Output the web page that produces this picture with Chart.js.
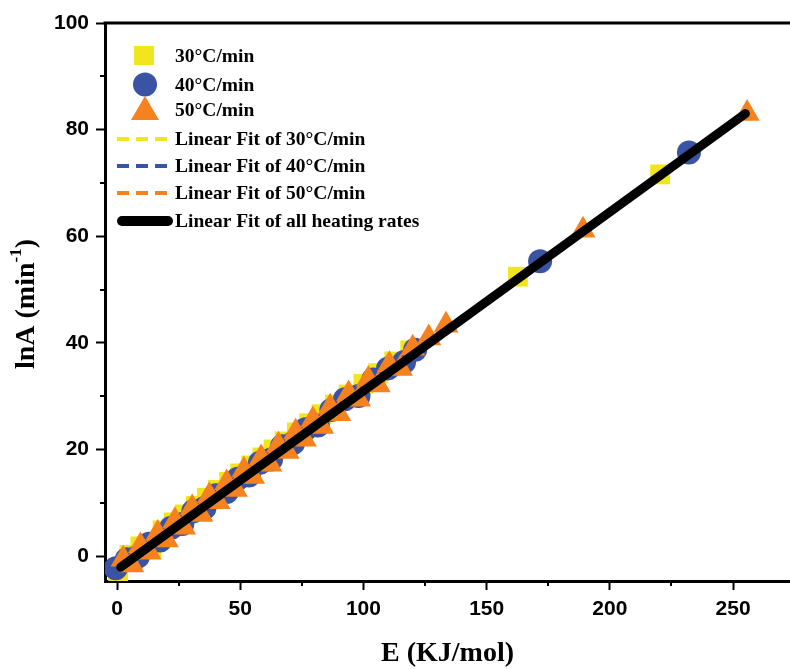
<!DOCTYPE html>
<html>
<head>
<meta charset="utf-8">
<script src="https://cdn.jsdelivr.net/npm/chart.js@4.4.1/dist/chart.umd.min.js"></script>
<style>
  html, body { margin: 0; padding: 0; background: #fff; overflow: hidden; }
  canvas { display: block; }
</style>
</head>
<body>
<canvas id="chart" width="790" height="669"></canvas>
<script>
// Activation energy E (kJ/mol) vs. pre-exponential factor lnA (min^-1)
const rate30E   = [0.5, 5, 9.5, 14, 18.5, 23, 27.5, 32, 36.5, 41, 45.5, 50, 54.5, 59, 63.5, 68, 73, 78, 83, 88.5, 94, 100, 106, 112.5, 119, 162.7, 220.4];
const rate30LnA = [-3.0, 0.2, 1.8, 1.3, 4.8, 6.3, 7.8, 9.4, 10.9, 12.4, 13.9, 15.5, 17.0, 18.5, 20.0, 21.5, 23.2, 24.9, 26.6, 28.4, 30.3, 32.3, 34.3, 36.5, 38.6, 52.4, 71.6];

const rate40E   = [-0.5, 4, 8.5, 13, 17.5, 22, 26.5, 31, 35.5, 40, 44.5, 49, 53.5, 58, 62.5, 67, 71.5, 76.5, 81.5, 87, 92.5, 98, 104, 110, 116.5, 121, 171.7, 232.1];
const rate40LnA = [-2.3, -0.6, -0.1, 2.3, 2.9, 5.3, 6.0, 8.4, 9.0, 11.4, 12.0, 14.5, 15.1, 17.5, 18.1, 20.6, 21.2, 23.8, 24.5, 27.4, 29.4, 30.0, 33.1, 35.2, 36.4, 38.7, 55.3, 75.7];

const rate50E   = [2.5, 6, 9.5, 13, 16.5, 20, 23.5, 27, 30.5, 34, 37.5, 41, 44.5, 48, 51.5, 55, 58.5, 62, 65.5, 69, 72.5, 76, 79.5, 83, 86.5, 90, 94, 98, 102, 106, 110.5, 115, 120, 126.5, 133.5, 189.1, 255.7];
const rate50LnA = [-0.6, -1.7, 1.9, 0.7, 4.2, 3.0, 6.6, 5.4, 9.0, 7.8, 11.3, 10.2, 13.7, 12.5, 16.1, 14.9, 18.4, 17.2, 20.8, 19.6, 23.2, 21.9, 25.5, 24.3, 27.9, 26.7, 30.4, 29.4, 33.1, 32.1, 35.9, 35.2, 39.0, 40.9, 43.3, 61.1, 83.0];

// Linear fit end points
const fit30E = [0.5, 220.4];   const fit30LnA = [-2.4, 71.4];
const fit40E = [-0.5, 232.1];  const fit40LnA = [-2.8, 75.5];
const fit50E = [2.5, 255.7];   const fit50LnA = [-1.8, 83.0];
const fitAllE = [1.5, 255];    const fitAllLnA = [-2.1, 83.0];

// Axis ticks
const xTickValues = [0, 50, 100, 150, 200, 250];
const xMinorTicks = [25, 75, 125, 175, 225];
const yTickValues = [0, 20, 40, 60, 80, 100];
const yMinorTicks = [10, 30, 50, 70, 90];

const seriesLabels = ['30°C/min', '40°C/min', '50°C/min',
  'Linear Fit of 30°C/min', 'Linear Fit of 40°C/min', 'Linear Fit of 50°C/min',
  'Linear Fit of all heating rates'];

const YELLOW = '#F1E61B';
const BLUE = '#3A53A4';
const ORANGE = '#F5821F';

const pts = (xs, ys) => xs.map((x, i) => ({ x, y: ys[i] }));

const SERIF = '"Liberation Serif", "Times New Roman", serif';
const SANS = '"Liberation Sans", Arial, sans-serif';

// Frame top edge, minor ticks, axis titles and legend
const decor = {
  id: 'decor',
  afterDraw(chart) {
    const { ctx, chartArea: a, scales: { x, y } } = chart;
    ctx.save();
    ctx.strokeStyle = '#000';
    ctx.lineWidth = 3;
    ctx.beginPath();
    ctx.moveTo(a.left - 1.5, a.top);
    ctx.lineTo(a.right, a.top);
    ctx.stroke();

    ctx.lineWidth = 2;
    xMinorTicks.forEach(v => {
      const px = Math.round(x.getPixelForValue(v));
      ctx.beginPath(); ctx.moveTo(px, a.bottom); ctx.lineTo(px, a.bottom + 5); ctx.stroke();
    });
    yMinorTicks.forEach(v => {
      const py = Math.round(y.getPixelForValue(v));
      ctx.beginPath(); ctx.moveTo(a.left, py); ctx.lineTo(a.left - 5, py); ctx.stroke();
    });

    // Axis titles
    ctx.fillStyle = '#000';
    ctx.font = 'bold 28px ' + SERIF;
    ctx.textAlign = 'center';
    ctx.textBaseline = 'middle';
    ctx.fillText('E (KJ/mol)', (a.left + a.right) / 2, 654);

    ctx.save();
    ctx.translate(27, (a.top + a.bottom) / 2 + 2);
    ctx.rotate(-Math.PI / 2);
    const main1 = 'lnA (min', sup = '-1', main2 = ')';
    ctx.font = 'bold 28px ' + SERIF;
    const w1 = ctx.measureText(main1).width;
    const w3 = ctx.measureText(main2).width;
    ctx.font = 'bold 17px ' + SERIF;
    const w2 = ctx.measureText(sup).width;
    const sx = -(w1 + w2 + w3) / 2;
    ctx.textAlign = 'left';
    ctx.font = 'bold 28px ' + SERIF;
    ctx.fillText(main1, sx, 0);
    ctx.font = 'bold 17px ' + SERIF;
    ctx.fillText(sup, sx + w1, -10);
    ctx.font = 'bold 28px ' + SERIF;
    ctx.fillText(main2, sx + w1 + w2, 0);
    ctx.restore();

    // Legend
    const cx = 144, tx = 175;
    const rows = [56, 84.5, 110, 139, 166, 193, 221];
    ctx.fillStyle = YELLOW;
    ctx.fillRect(cx - 10, rows[0] - 10, 20, 19);
    ctx.fillStyle = BLUE;
    ctx.beginPath(); ctx.arc(cx + 1, rows[1], 12, 0, Math.PI * 2); ctx.fill();
    ctx.fillStyle = ORANGE;
    ctx.beginPath();
    ctx.moveTo(cx + 1, rows[2] - 14); ctx.lineTo(cx + 15, rows[2] + 10); ctx.lineTo(cx - 13, rows[2] + 10);
    ctx.closePath(); ctx.fill();

    ctx.lineWidth = 4;
    ctx.setLineDash([12, 7]);
    [[YELLOW, rows[3]], [BLUE, rows[4]], [ORANGE, rows[5]]].forEach(([c, ry]) => {
      ctx.strokeStyle = c;
      ctx.beginPath(); ctx.moveTo(117, ry); ctx.lineTo(167, ry); ctx.stroke();
    });
    ctx.setLineDash([]);
    ctx.strokeStyle = '#000';
    ctx.lineWidth = 10;
    ctx.lineCap = 'round';
    ctx.beginPath(); ctx.moveTo(122, rows[6]); ctx.lineTo(168, rows[6]); ctx.stroke();

    ctx.fillStyle = '#000';
    ctx.font = 'bold 19.5px ' + SERIF;
    ctx.textAlign = 'left';
    ctx.textBaseline = 'middle';
    seriesLabels.forEach((t, i) => ctx.fillText(t, tx, rows[i] + 1));
    ctx.restore();
  }
};

new Chart(document.getElementById('chart'), {
  type: 'scatter',
  data: {
    datasets: [
      { label: seriesLabels[6], data: pts(fitAllE, fitAllLnA), showLine: true, borderColor: '#000', borderWidth: 9, borderCapStyle: 'round', pointRadius: 0, order: 0 },
      { label: seriesLabels[3], data: pts(fit30E, fit30LnA), showLine: true, borderColor: YELLOW, borderWidth: 3, borderDash: [10, 7], pointRadius: 0, order: 1 },
      { label: seriesLabels[4], data: pts(fit40E, fit40LnA), showLine: true, borderColor: BLUE, borderWidth: 3, borderDash: [10, 7], pointRadius: 0, order: 1 },
      { label: seriesLabels[5], data: pts(fit50E, fit50LnA), showLine: true, borderColor: ORANGE, borderWidth: 3, borderDash: [10, 7], pointRadius: 0, order: 1 },
      { label: seriesLabels[2], data: pts(rate50E, rate50LnA), pointStyle: 'triangle', pointRadius: 14.5, backgroundColor: ORANGE, borderWidth: 0, order: 2 },
      { label: seriesLabels[1], data: pts(rate40E, rate40LnA), pointStyle: 'circle', pointRadius: 12, backgroundColor: BLUE, borderWidth: 0, order: 3 },
      { label: seriesLabels[0], data: pts(rate30E, rate30LnA), pointStyle: 'rect', pointRadius: 14, backgroundColor: YELLOW, borderWidth: 0, order: 4 }
    ]
  },
  options: {
    responsive: false,
    animation: false,
    devicePixelRatio: 1,
    events: [],
    layout: { autoPadding: false, padding: { top: 23, right: 0, bottom: 0, left: 0 } },
    plugins: { legend: { display: false }, tooltip: { enabled: false } },
    scales: {
      x: {
        type: 'linear', position: 'bottom', min: -4.87, max: 273.1,
        afterBuildTicks: s => { s.ticks = xTickValues.map(v => ({ value: v })); },
        afterFit: s => { s.height = 88; s.paddingLeft = 0; s.paddingRight = 0; },
        grid: { drawOnChartArea: false, drawTicks: true, tickLength: 9, tickWidth: 2, tickColor: '#000' },
        border: { display: true, color: '#000', width: 3 },
        ticks: { color: '#000', padding: 7, maxRotation: 0, autoSkip: false, font: { family: SANS, size: 21, weight: 'bold' } }
      },
      y: {
        type: 'linear', position: 'left', min: -4.69, max: 100,
        afterBuildTicks: s => { s.ticks = yTickValues.map(v => ({ value: v })); },
        afterFit: s => { s.width = 105; },
        grid: { drawOnChartArea: false, drawTicks: true, tickLength: 9, tickWidth: 2, tickColor: '#000' },
        border: { display: true, color: '#000', width: 3 },
        ticks: { color: '#000', padding: 7, autoSkip: false, font: { family: SANS, size: 21, weight: 'bold' } }
      }
    }
  },
  plugins: [decor]
});
</script>
</body>
</html>
